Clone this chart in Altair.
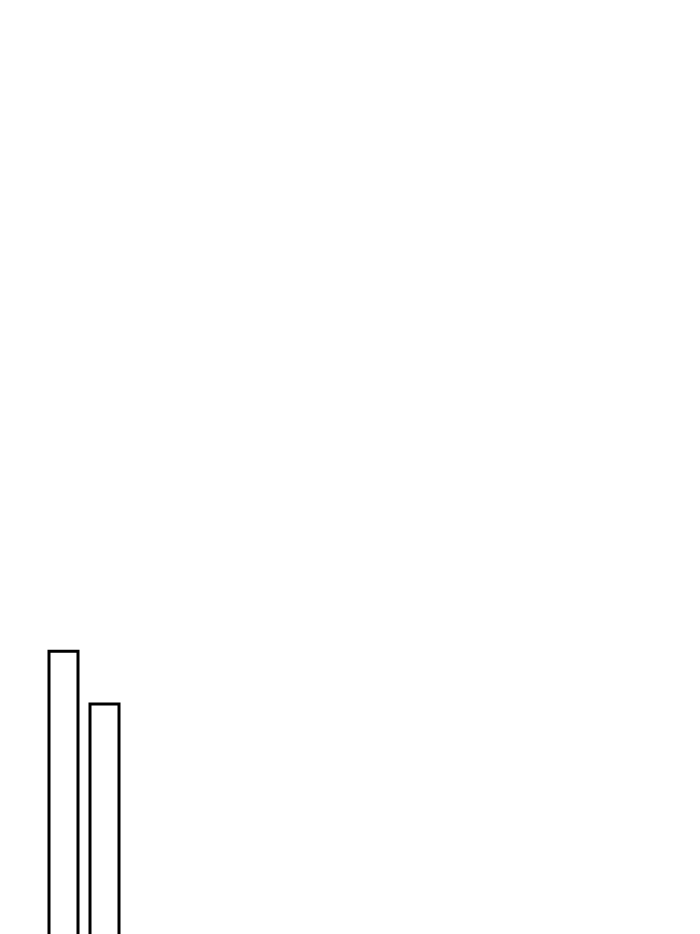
import altair as alt
import pandas as pd

categories = ["A", "B"]
values = [46.4, 42.0]

df = pd.DataFrame({"category": categories, "value": values})

chart = alt.Chart(df).mark_bar(
    fill="white", stroke="black", strokeWidth=3
).encode(
    x=alt.X("category:N", axis=None,
            scale=alt.Scale(paddingInner=12/41, paddingOuter=1.0)),
    y=alt.Y("value:Q", axis=None, scale=alt.Scale(domain=[0, 100])),
).properties(
    width=152, height=1200, padding=0,
    autosize=alt.AutoSizeParams(type="none"),
).configure_view(stroke=None)

chart.save("out.html", embed_options={"renderer": "svg", "actions": False})
